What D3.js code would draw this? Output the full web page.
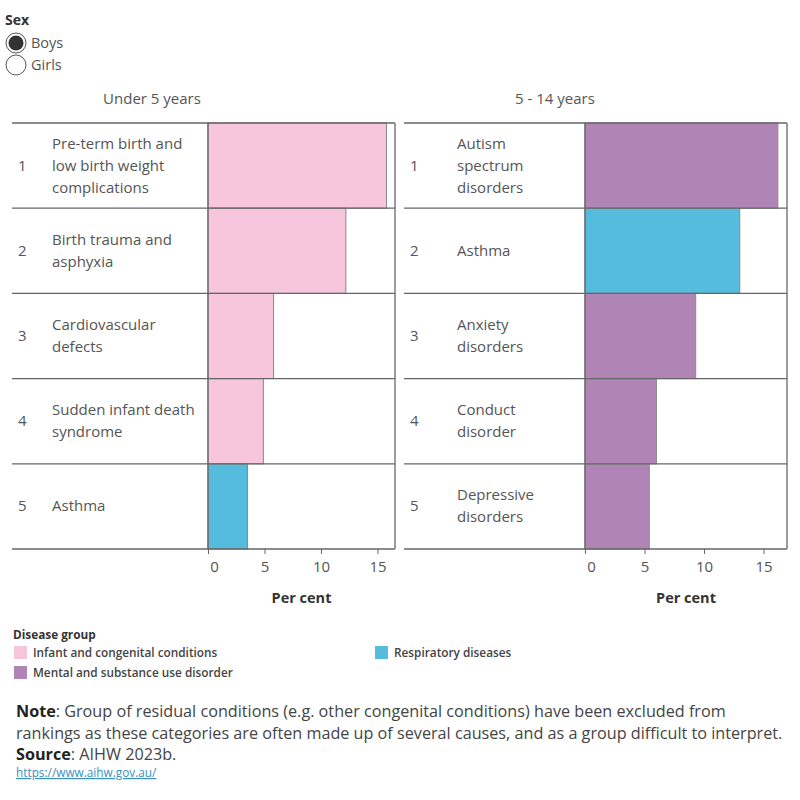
<!DOCTYPE html>
<html>
<head>
<meta charset="utf-8">
<script src="https://cdn.jsdelivr.net/npm/d3@7"></script>
<style>
  body { margin: 0; background: #fff; font-family: "Open Sans", sans-serif; }
  svg text { font-family: "Open Sans", sans-serif; }
</style>
</head>
<body>
<div class="chart"></div>
<script>
// Leading causes of disease burden, boys
var ranks = [1, 2, 3, 4, 5];

var under5Causes = ["Pre-term birth and\nlow birth weight\ncomplications", "Birth trauma and\nasphyxia",
    "Cardiovascular\ndefects", "Sudden infant death\nsyndrome", "Asthma"];
var under5Values = [15.8, 12.2, 5.8, 4.9, 3.5];
var under5Groups = ["infant", "infant", "infant", "infant", "resp"];

var olderCauses = ["Autism\nspectrum\ndisorders", "Asthma", "Anxiety\ndisorders", "Conduct\ndisorder", "Depressive\ndisorders"];
var olderValues = [16.2, 13.0, 9.3, 6.0, 5.4];
var olderGroups = ["mental", "resp", "mental", "mental", "mental"];

var groupKeys = ["infant", "mental", "resp"];
var groupNames = ["Infant and congenital conditions", "Mental and substance use disorder", "Respiratory diseases"];
var groupColors = ["#F7C6DD", "#B085B6", "#55BCDD"];

var tickValues = [0, 5, 10, 15];

var width = 800, height = 800;
var textColor = '#555';

var color = d3.scaleOrdinal().domain(groupKeys).range(groupColors);

var svg = d3.select(".chart")
    .append("svg")
    .attr("width", width)
    .attr("height", height);

// sex selector
svg.append("text").attr("x", 5).attr("y", 25)
    .style("font-size", "14px").style("font-weight", "bold").style("fill", "#333")
    .text("Sex");
["Boys", "Girls"].forEach(function (s, i) {
    var cy = 43 + i * 22;
    svg.append("circle").attr("cx", 16).attr("cy", cy).attr("r", 10)
        .style("fill", "#fff").style("stroke", "#555").style("stroke-width", 1);
    if (i == 0) {
        svg.append("circle").attr("cx", 16).attr("cy", cy).attr("r", 7.5).style("fill", "#333");
    }
    svg.append("text").attr("x", 31).attr("y", cy + 5)
        .style("font-size", "14.5px").style("fill", textColor).text(s);
});

var chartTop = 123, chartBottom = 549;

var y = d3.scaleBand().domain(ranks).range([chartTop, chartBottom]).padding(0);

function panel(opts) {
    var x = d3.scaleLinear().domain([0, opts.max]).range([opts.zero, opts.right]);
    var g = svg.append("g");

    g.append("text").attr("x", opts.titleX).attr("y", 104)
        .attr("text-anchor", "middle")
        .style("font-size", "15px").style("fill", textColor).text(opts.title);

    // bars
    g.selectAll("rect.bar")
        .data(ranks)
        .enter()
        .append("rect")
        .attr("class", "bar")
        .attr("x", x(0))
        .attr("y", function (d) { return y(d); })
        .attr("width", function (d, i) { return x(opts.values[i]) - x(0); })
        .attr("height", y.bandwidth())
        .style("fill", function (d, i) { return color(opts.groups[i]); })
        .style("stroke", "#888")
        .style("stroke-width", 1);

    // row lines
    g.selectAll("line.row")
        .data(ranks.concat([null]))
        .enter()
        .append("line")
        .attr("x1", opts.left).attr("x2", opts.right)
        .attr("y1", function (d) { return d == null ? chartBottom : y(d); })
        .attr("y2", function (d) { return d == null ? chartBottom : y(d); })
        .style("stroke", "#666").style("stroke-width", 1.3);

    g.append("line").attr("x1", x(0)).attr("x2", x(0)).attr("y1", chartTop).attr("y2", chartBottom)
        .style("stroke", "#666").style("stroke-width", 1.3);
    g.append("line").attr("x1", opts.right).attr("x2", opts.right).attr("y1", chartTop).attr("y2", chartBottom)
        .style("stroke", "#666").style("stroke-width", 1.3);

    // rank numbers and cause labels
    ranks.forEach(function (r, i) {
        var cy = y(r) + y.bandwidth() / 2;
        g.append("text").attr("x", opts.left + 6).attr("y", cy + 5)
            .style("font-size", "15px").style("fill", textColor).text(r);
        var lines = opts.causes[i].split("\n");
        var t = g.append("text").attr("x", opts.left + opts.labelOffset)
            .attr("y", cy + 5 - (lines.length - 1) * 11)
            .style("font-size", "15px").style("fill", textColor);
        lines.forEach(function (l, k) {
            t.append("tspan").attr("x", opts.left + opts.labelOffset).attr("dy", k == 0 ? 0 : 22).text(l);
        });
    });

    // axis
    var axis = g.append("g")
        .attr("transform", "translate(0," + chartBottom + ")")
        .call(d3.axisBottom(x).tickValues(tickValues).tickSize(5).tickPadding(7));
    axis.select(".domain").remove();
    axis.selectAll(".tick line").style("stroke", "#666");
    axis.selectAll(".tick text")
        .style("font-size", "15px").style("fill", textColor)
        .attr("dx", function (d) { return d == 0 ? 6 : 0; });

    g.append("text").attr("x", (opts.zero + opts.right) / 2).attr("y", 603)
        .attr("text-anchor", "middle")
        .style("font-size", "14.5px").style("font-weight", "bold").style("fill", "#333")
        .text("Per cent");
}

panel({ left: 12, zero: 208, right: 395, max: 16.55, labelOffset: 40, titleX: 152,
    title: "Under 5 years", causes: under5Causes, values: under5Values, groups: under5Groups });
panel({ left: 404, zero: 585, right: 787, max: 16.97, labelOffset: 53, titleX: 555,
    title: "5 - 14 years", causes: olderCauses, values: olderValues, groups: olderGroups });

// legend
svg.append("text").attr("x", 13).attr("y", 639)
    .style("font-size", "11.8px").style("font-weight", "bold").style("fill", "#333")
    .text("Disease group");
var legendPos = [[14, 646], [14, 666], [375, 646]];
groupKeys.forEach(function (k, i) {
    var p = legendPos[i];
    svg.append("rect").attr("x", p[0]).attr("y", p[1]).attr("width", 13).attr("height", 13)
        .style("fill", color(k));
    svg.append("text").attr("x", p[0] + 19).attr("y", p[1] + 11)
        .style("font-size", "11.8px").style("font-weight", "600").style("fill", "#444")
        .text(groupNames[i]);
});

// note and source
var note = svg.append("text").attr("x", 16).attr("y", 717)
    .style("font-size", "16.2px").style("fill", "#444");
note.append("tspan").style("font-weight", "bold").style("fill", "#222").text("Note");
note.append("tspan").text(": Group of residual conditions (e.g. other congenital conditions) have been excluded from");
svg.append("text").attr("x", 16).attr("y", 739)
    .style("font-size", "16.2px").style("fill", "#444")
    .text("rankings as these categories are often made up of several causes, and as a group difficult to interpret.");
var src = svg.append("text").attr("x", 16).attr("y", 760)
    .style("font-size", "16.2px").style("fill", "#444");
src.append("tspan").style("font-weight", "bold").style("fill", "#222").text("Source");
src.append("tspan").text(": AIHW 2023b.");
svg.append("text").attr("x", 16).attr("y", 777)
    .style("font-size", "11.8px").style("fill", "#3a8fc0").style("text-decoration", "underline")
    .text("https://www.aihw.gov.au/");
</script>
</body>
</html>
